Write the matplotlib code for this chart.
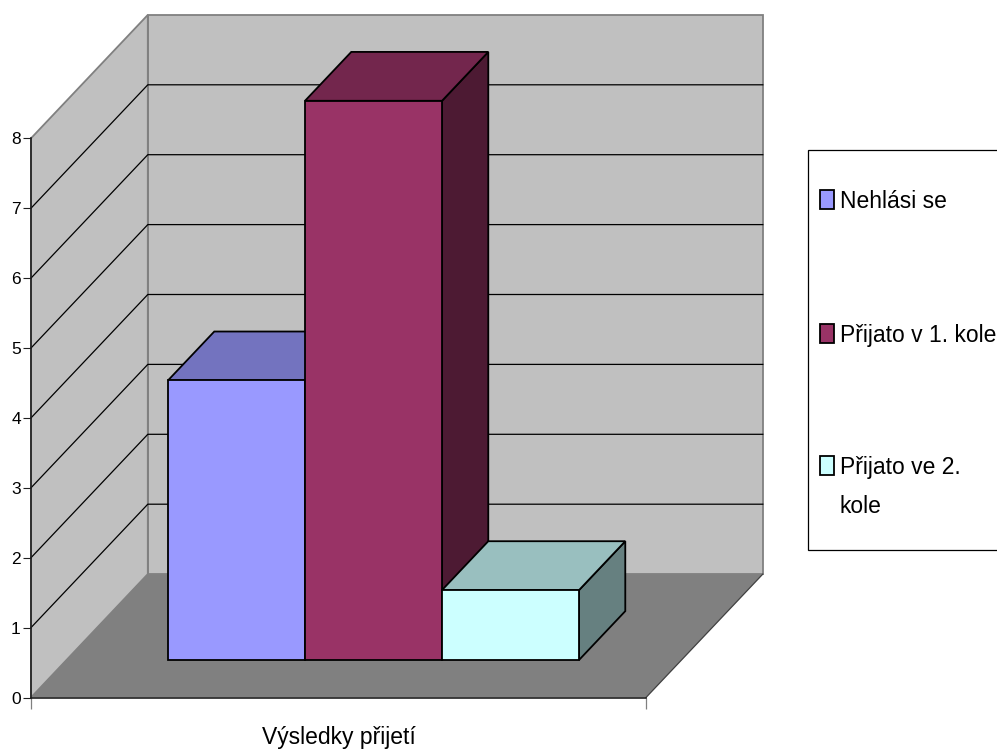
import matplotlib
matplotlib.use("Agg")
import matplotlib.pyplot as plt
from matplotlib.patches import Polygon, Rectangle

# Chart data
series_names = ["Nehlási se", "Přijato v 1. kole", "Přijato ve 2.\nkole"]
series_values = [4, 8, 1]
series_colors = ["#9999FF", "#993366", "#CCFFFF"]
value_ticks = [0, 1, 2, 3, 4, 5, 6, 7, 8]
category_label = "Výsledky přijetí"

# Oblique projection settings, in data units
W, H = 997, 753
PLANE_LEFT, PLANE_RIGHT, PLANE_TOP, PLANE_BOTTOM = 31, 646, 138.3, 697.5
BAR_WIDTH = 1.0
X_SPAN = (PLANE_RIGHT - PLANE_LEFT) / 137.0
DEPTH_X = 116.8 / 137.0
DEPTH_Y = 123.4 / 69.9
BAR_START = 0.741
DEPTH_NEAR, DEPTH_FAR = 0.304, 0.70

plt.rcParams["font.family"] = "Liberation Sans"


def project(x, v, d):
    """Map (category position, value, depth 0..1) to 2D data coordinates."""
    return x + d * DEPTH_X, v + d * DEPTH_Y


def face(ax, corners, color, edge, lw, z):
    ax.add_patch(Polygon([project(*c) for c in corners], closed=True, facecolor=color,
                         edgecolor=edge, linewidth=lw, joinstyle="miter",
                         clip_on=False, zorder=z))


def shade(hex_color, k):
    r, g, b = matplotlib.colors.to_rgb(hex_color)
    return (r * k, g * k, b * k)


fig = plt.figure(figsize=(W / 100, H / 100), dpi=100, facecolor="white")
ax = fig.add_axes([PLANE_LEFT / W, 1 - PLANE_BOTTOM / H,
                   (PLANE_RIGHT - PLANE_LEFT) / W, (PLANE_BOTTOM - PLANE_TOP) / H])
ax.patch.set_alpha(0)
ax.set_xlim(0, X_SPAN)
ax.set_ylim(value_ticks[0], value_ticks[-1])

vmax = value_ticks[-1]
WALL, FLOOR, WALL_EDGE = "#C0C0C0", "#808080", "#808080"

# Back wall, side wall and floor
face(ax, [(0, 0, 1), (X_SPAN, 0, 1), (X_SPAN, vmax, 1), (0, vmax, 1)], WALL, WALL_EDGE, 1.3, 1)
face(ax, [(0, 0, 0), (0, 0, 1), (0, vmax, 1), (0, vmax, 0)], WALL, WALL_EDGE, 1.3, 1)
face(ax, [(0, 0, 0), (X_SPAN, 0, 0), (X_SPAN, 0, 1), (0, 0, 1)], FLOOR, "none", 0, 2)
right_edge = [project(X_SPAN, 0, 0), project(X_SPAN, 0, 1)]
ax.plot(*zip(*right_edge), color="#404040", lw=0.9, clip_on=False, zorder=2)

# Gridlines wrapping the side and back walls
for v in value_ticks[1:-1]:
    pts = [project(0, v, 0), project(0, v, 1), project(X_SPAN, v, 1)]
    ax.plot(*zip(*pts), color="black", lw=0.9, clip_on=False, zorder=3)

# Bars, left to right so that each one overlaps its left neighbour's base
for i, (val, col) in enumerate(zip(series_values, series_colors)):
    x0 = BAR_START + i * BAR_WIDTH
    x1 = x0 + BAR_WIDTH
    n, f = DEPTH_NEAR, DEPTH_FAR
    z = 10 + i
    face(ax, [(x1, 0, n), (x1, 0, f), (x1, val, f), (x1, val, n)], shade(col, 0.5), "black", 1.3, z)
    face(ax, [(x0, val, n), (x1, val, n), (x1, val, f), (x0, val, f)], shade(col, 0.75), "black", 1.3, z)
    face(ax, [(x0, 0, n), (x1, 0, n), (x1, val, n), (x0, val, n)], col, "black", 1.3, z)

# Value axis and category axis
for side in ("top", "right"):
    ax.spines[side].set_visible(False)
for side in ("left", "bottom"):
    ax.spines[side].set_color("#202020")
    ax.spines[side].set_linewidth(1.2)
    ax.spines[side].set_zorder(5)
ax.set_yticks(value_ticks)
ax.tick_params(axis="y", direction="out", length=5.8, width=0.8, color="#202020",
               labelsize=12.5, pad=1.5, labelcolor="black")
ax.set_xticks([0, X_SPAN])
ax.set_xticklabels(["", ""])
ax.tick_params(axis="x", direction="out", length=8, width=0.9, color="#808080")
ax.set_xlabel(category_label, fontsize=16.5)
ax.xaxis.set_label_coords(0.5, -0.0707, transform=ax.transAxes)
ax.xaxis.label.set_va("center")

# Legend frame runs past the right edge of the figure
fig.add_artist(Rectangle((808 / W, 1 - 549.5 / H), 300 / W, 399.5 / H, transform=fig.transFigure,
                         facecolor="white", edgecolor="black", linewidth=0.9))

# One legend block per entry, because the wrapped entry shifts the row spacing
entry_tops = [190, 324, 456]
for name, color, top in zip(series_names, series_colors, entry_tops):
    handle = Rectangle((0, 0), 1, 1, facecolor=color, edgecolor="black", linewidth=1.3)
    leg = fig.legend([handle], [name], loc="upper left", bbox_to_anchor=(819.5 / W, 1 - top / H),
                     bbox_transform=fig.transFigure, frameon=False, fontsize=16.5, borderpad=0,
                     borderaxespad=0, handlelength=0.62, handleheight=0.88, handletextpad=0.26)
    leg.set_zorder(20)
    leg.get_texts()[0].set_linespacing(1.9)
    # Keep the swatch of a wrapped entry beside its first line
    leg._legend_handle_box.get_children()[0].get_children()[0].align = "top"

fig.savefig("out.png", dpi=100)
